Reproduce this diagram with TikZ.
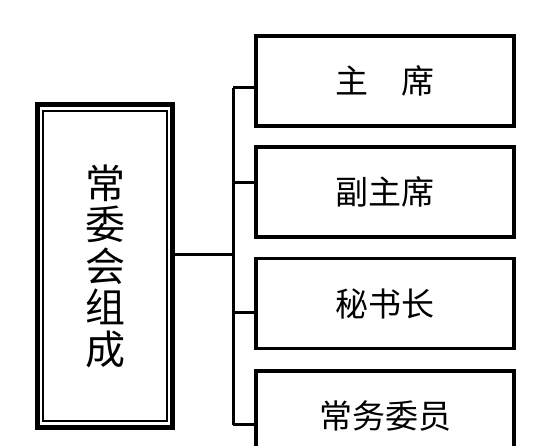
\documentclass[tikz,border=0pt]{standalone}
\usepackage{fontspec}
\newfontfamily\cjk{Noto Sans CJK SC}
\usepackage{tikz}
\usetikzlibrary{positioning,calc}

\tikzset{
  post/.style={draw, line width=3.5pt, minimum width=258pt, minimum height=90pt,
    inner sep=0pt, font=\cjk\fontsize{33}{36}\selectfont},
  link/.style={line width=3pt}
}

\begin{document}
\begin{tikzpicture}[x=1pt,y=-1pt]
  \useasboundingbox (0,0) rectangle (555,446);
  \clip (0,0) rectangle (555,446);
  % committee box, double frame
  \node[draw, line width=5pt, minimum width=135pt, minimum height=323pt, align=center,
        font=\cjk\fontsize{40}{41.5}\selectfont] (lead) at (105,266)
        {常\\委\\会\\组\\成};
  \draw[line width=1.5pt] ([shift={(8pt,-9pt)}]lead.north west)
        rectangle ([shift={(-8pt,9pt)}]lead.south east);
  % posts
  \node[post] (chair) at (385,81) {主　席};
  \node[post] (vice) at (385,192) {副主席};
  \node[post] (secr) at (385,303.5) {秘书长};
  \node[post] (memb) at (385,416) {常务委员};
  % connectors
  \coordinate (hub) at (233,255);
  \coordinate (bustop) at (233,88);
  \coordinate (busbot) at (233,425);
  \draw[link] (lead.east |- hub) -- (hub);
  \draw[link] (bustop) -- (busbot);
  \foreach \n/\y in {chair/88,vice/183,secr/313,memb/425}
    \draw[link] (233,\y) -- (\n.west |- 0,\y);
\end{tikzpicture}
\end{document}
